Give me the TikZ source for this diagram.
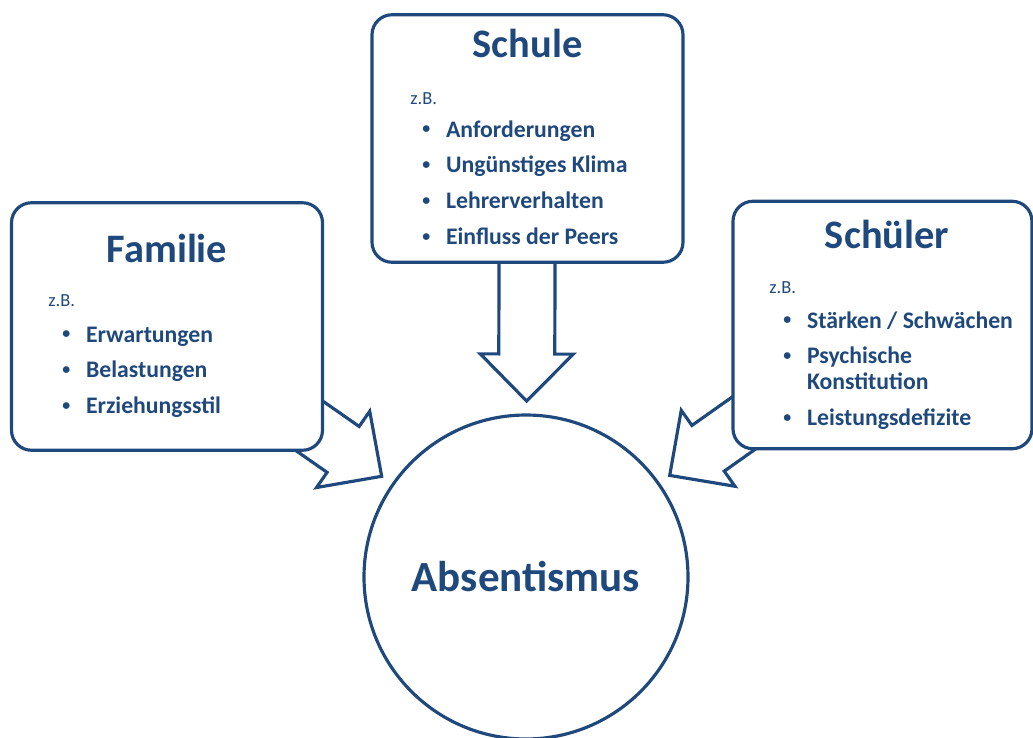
\documentclass[tikz,border=0pt]{standalone}
\usepackage{fontspec}
\setmainfont{Carlito}
\usepackage{xcolor}
\usetikzlibrary{calc,backgrounds}
\definecolor{figureline}{RGB}{31,73,125}

% hollow block arrow from the centre of #1 towards the circle #2
\newcommand{\blockarrow}[2]{%
  \coordinate (tail) at (#1.center);
  \coordinate (tip) at ($(#2.center)!3.52cm!(#1.center)$);
  \coordinate (hb) at ($(tip)!0.94cm!(tail)$);
  \draw[blockarrow] ($(tail)!0.56cm!90:(tip)$) -- ($(hb)!0.56cm!-90:(tail)$)
    -- ($(hb)!0.93cm!-90:(tail)$) -- (tip) -- ($(hb)!0.93cm!90:(tail)$)
    -- ($(hb)!0.56cm!90:(tail)$) -- ($(tail)!0.56cm!-90:(tip)$) -- cycle;
}
\newcommand{\itembullet}{\raisebox{0.3ex}{\fontsize{9}{9}\selectfont\textbullet}}
\newcommand{\itemlist}[1]{\begin{tabular}[t]{@{}l@{\hspace{9pt}}l@{}}#1\end{tabular}}

\begin{document}
\begin{tikzpicture}[
    box/.style={draw=figureline, fill=white, rounded corners=0.4cm, line width=1.8pt,
      minimum width=6.22cm, minimum height=4.95cm},
    title/.style={text=figureline, font=\fontsize{23}{27}\selectfont\bfseries, anchor=base, inner sep=0pt},
    zb/.style={text=figureline, font=\fontsize{10.5}{12}\selectfont, anchor=base west, inner sep=0pt},
    items/.style={text=figureline, font=\fontsize{13.5}{14.7}\selectfont\bfseries, anchor=base west, inner sep=0pt},
    blockarrow/.style={draw=figureline, fill=white, line width=1.8pt, line join=miter}
  ]
    \useasboundingbox (0,0) rectangle (20.66,-14.74);
    \node[box] (schule) at (10.55,-2.77) {};
    \node[box] (familie) at (3.34,-6.53) {};
    \node[box, minimum width=5.98cm] (schueler) at (17.65,-6.50) {};
    \node[circle, draw=figureline, line width=1.8pt, minimum size=6.48cm, inner sep=0pt,
      text=figureline, font=\fontsize{24.5}{29}\selectfont\bfseries] (absent) at (10.52,-11.54) {Absentismus};

    \node[title] (schuletitle) at (10.55,-1.14) {Schule};
    \node[zb] (schulezb) at (8.2,-2.08) {z.B.};
    \node[items] (schulelist) at (8.44,-2.74) {\itemlist{%
      \itembullet & Anforderungen\\[5.7pt]
      \itembullet & Ungünstiges Klima\\[5.7pt]
      \itembullet & Lehrerverhalten\\[5.7pt]
      \itembullet & Einfluss der Peers}};

    \node[title] (familietitle) at (3.34,-5.24) {Familie};
    \node[zb] (familiezb) at (0.96,-6.12) {z.B.};
    \node[items] (familielist) at (1.24,-6.84) {\itemlist{%
      \itembullet & Erwartungen\\[5.7pt]
      \itembullet & Belastungen\\[5.7pt]
      \itembullet & Erziehungsstil}};

    \node[title] (schuelertitle) at (17.74,-4.96) {Schüler};
    \node[zb] (schuelerzb) at (15.38,-5.86) {z.B.};
    \node[items] (schuelerlist) at (15.66,-6.56) {\itemlist{%
      \itembullet & Stärken / Schwächen\\[5.7pt]
      \itembullet & Psychische\\
                  & Konstitution\\[5.7pt]
      \itembullet & Leistungsdefizite}};

    \begin{scope}[on background layer]
      \blockarrow{schule}{absent}
      \blockarrow{familie}{absent}
      \blockarrow{schueler}{absent}
    \end{scope}
  \end{tikzpicture}
\end{document}
